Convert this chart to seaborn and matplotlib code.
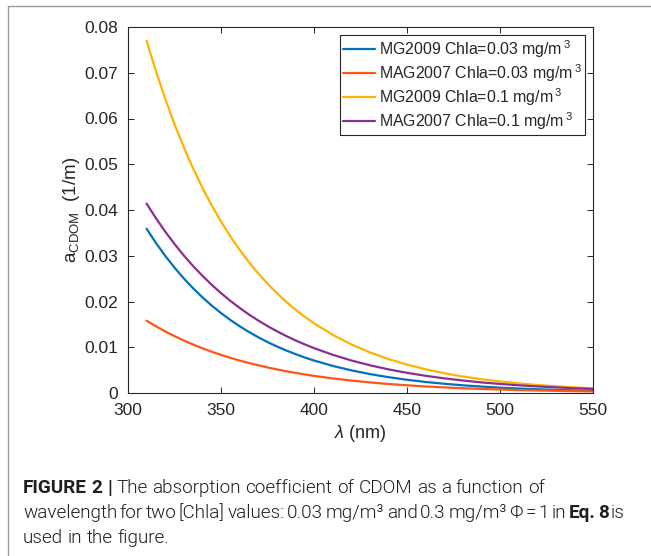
import matplotlib
matplotlib.use("Agg")
import matplotlib.pyplot as plt
import seaborn as sns
import pandas as pd
from matplotlib.lines import Line2D

# Wavelength grid (nm)
wavelength = [310, 315, 320, 325, 330, 335, 340, 345, 350, 355, 360, 365, 370,
              375, 380, 385, 390, 395, 400, 410, 420, 430, 440, 450, 460, 470,
              480, 490, 500, 510, 520, 530, 540, 550]

# CDOM absorption coefficient (1/m)
mg2009_chl003 = [0.0359, 0.03281, 0.02999, 0.02741, 0.02505, 0.02289, 0.02092,
                 0.01912, 0.01747, 0.01597, 0.01460, 0.01334, 0.01219, 0.01114,
                 0.01018, 0.00931, 0.00851, 0.00777, 0.00710, 0.00593, 0.00496,
                 0.00414, 0.00346, 0.00289, 0.00241, 0.00202, 0.00168, 0.00141,
                 0.00117, 0.00098, 0.00082, 0.00068, 0.00057, 0.00048]
mag2007_chl003 = [0.0158, 0.01459, 0.01346, 0.01243, 0.01147, 0.01059, 0.00978,
                  0.00903, 0.00833, 0.00769, 0.00710, 0.00656, 0.00606, 0.00559,
                  0.00516, 0.00476, 0.00440, 0.00406, 0.00374, 0.00319, 0.00272,
                  0.00232, 0.00197, 0.00168, 0.00143, 0.00122, 0.00104, 0.00089,
                  0.00076, 0.00064, 0.00055, 0.00047, 0.00040, 0.00034]
mg2009_chl01 = [0.0770, 0.07037, 0.06432, 0.05878, 0.05372, 0.04910, 0.04487,
                0.04101, 0.03748, 0.03425, 0.03131, 0.02861, 0.02615, 0.02390,
                0.02184, 0.01996, 0.01824, 0.01667, 0.01524, 0.01273, 0.01063,
                0.00888, 0.00742, 0.00620, 0.00518, 0.00432, 0.00361, 0.00302,
                0.00252, 0.00210, 0.00176, 0.00147, 0.00123, 0.00102]
mag2007_chl01 = [0.0414, 0.03822, 0.03528, 0.03257, 0.03006, 0.02775, 0.02562,
                 0.02365, 0.02183, 0.02015, 0.01860, 0.01717, 0.01585, 0.01463,
                 0.01351, 0.01247, 0.01151, 0.01063, 0.00981, 0.00836, 0.00712,
                 0.00607, 0.00517, 0.00441, 0.00376, 0.00320, 0.00273, 0.00232,
                 0.00198, 0.00169, 0.00144, 0.00123, 0.00104, 0.00089]

series_labels = [
    r"MG2009 Chla=0.03 mg/m$\,^{3}$",
    r"MAG2007 Chla=0.03 mg/m$\,^{3}$",
    r"MG2009 Chla=0.1 mg/m$\,^{3}$",
    r"MAG2007 Chla=0.1 mg/m$\,^{3}$",
]
series_values = [mg2009_chl003, mag2007_chl003, mg2009_chl01, mag2007_chl01]
series_colors = ["#0072BD", "#FF5516", "#FFB300", "#8A2E94"]

x_ticks = [300, 350, 400, 450, 500, 550]
y_ticks = [0, 0.01, 0.02, 0.03, 0.04, 0.05, 0.06, 0.07, 0.08]
y_tick_labels = ["0", "0.01", "0.02", "0.03", "0.04", "0.05", "0.06", "0.07", "0.08"]

df = pd.concat(
    [pd.DataFrame({"wavelength": wavelength, "a": vals, "series": lab})
     for lab, vals in zip(series_labels, series_values)],
    ignore_index=True,
)

sns.set_theme(style="ticks")
plt.rcParams.update({
    "font.family": ["Liberation Sans", "DejaVu Sans"],
    "mathtext.fontset": "custom",
    "mathtext.rm": "Liberation Sans",
    "mathtext.it": "Liberation Sans:italic",
    "mathtext.bf": "Liberation Sans:bold",
    "xtick.direction": "in",
    "ytick.direction": "in",
    "xtick.top": True,
    "ytick.right": True,
    "xtick.major.size": 4,
    "ytick.major.size": 4,
    "xtick.major.width": 0.7,
    "ytick.major.width": 0.7,
    "xtick.color": "#262626",
    "ytick.color": "#262626",
    "axes.edgecolor": "#262626",
    "axes.linewidth": 0.8,
})

W, H = 651, 556
fig = plt.figure(figsize=(W / 100, H / 100), dpi=100)
fig.patch.set_facecolor("white")

ax_l, ax_r, ax_t, ax_b = 128, 593, 27, 393
ax = fig.add_axes([ax_l / W, 1 - ax_b / H, (ax_r - ax_l) / W, (ax_b - ax_t) / H])

sns.lineplot(data=df, x="wavelength", y="a", hue="series",
             hue_order=series_labels, palette=series_colors,
             estimator=None, linewidth=1.6, legend=False, ax=ax)

ax.set_xlim(300, 550)
ax.set_ylim(0, 0.08)
ax.set_xticks(x_ticks)
ax.set_xticklabels([str(t) for t in x_ticks])
ax.set_yticks(y_ticks)
ax.set_yticklabels(y_tick_labels)
ax.tick_params(labelsize=12.5, labelcolor="#262626", pad=7)
for s in ax.spines.values():
    s.set_visible(True)
    s.set_color("#262626")

ax.set_xlabel(r"$\lambda$ (nm)", fontsize=13, color="#262626", va="center")
ax.xaxis.set_label_coords(0.5, (ax_b - 433) / (ax_b - ax_t))
ax.set_ylabel(r"a$_{\mathrm{CDOM}}$  (1/m)", fontsize=13.5, color="#262626", va="center")
ax.yaxis.set_label_coords((72 - ax_l) / (ax_r - ax_l), 0.5)

handles = [Line2D([], [], color=c, lw=1.6) for c in series_colors]
leg = ax.legend(handles, series_labels, loc="upper right", fontsize=11.4,
                frameon=True, fancybox=False, framealpha=1, edgecolor="#262626",
                borderpad=0.2, labelspacing=0.15, handlelength=2.0,
                handletextpad=0.25, borderaxespad=0.5)
leg.get_frame().set_linewidth(0.8)

# Caption frame lines
frame_col = "#9a9a9a"
fig.add_artist(Line2D([8 / W, 8 / W], [0, 1 - 6 / H], transform=fig.transFigure,
                      color=frame_col, lw=1.0))
fig.add_artist(Line2D([8 / W, 1], [1 - 6 / H, 1 - 6 / H], transform=fig.transFigure,
                      color=frame_col, lw=1.0))

# Caption, word by word (bold words flagged), second line justified
cap_font = ["Roboto", "DejaVu Sans"]
cap_color = "#1e1e1e"
light = 300
cap_lines = [
    [("FIGURE", "bold"), ("2", "bold"), ("|", "bold"), ("The", light),
     ("absorption", light), ("coefficient", light), ("of", light),
     ("CDOM", light), ("as", light), ("a", light), ("function", light),
     ("of", light)],
    [("wavelength", light), ("for", light), ("two", light),
     ("[Chla]", light), ("values:", light), ("0.03", light),
     ("mg/m\u00b3", light), ("and", light), ("0.3", light),
     ("mg/m\u00b3", light), ("\u03a6", light), ("=", light), ("1", light),
     ("in", light), ("Eq.", "bold"), ("8", "bold"), ("is", light)],
    [("used", light), ("in", light), ("the", light), ("figure.", light)],
]
cap_baselines = [493, 518, 543]
cap_justify = [None, 602, None]
cap_x0 = 23
cap_line1_width = 520
renderer = fig.canvas.get_renderer()


def word_widths(words, size):
    ws = []
    for txt, weight in words:
        t = fig.text(0, 0, txt, fontsize=size, fontweight=weight, family=cap_font)
        ws.append(t.get_window_extent(renderer).width)
        t.remove()
    return ws


def space_width(size):
    a = fig.text(0, 0, "a a", fontsize=size, fontweight=light, family=cap_font)
    b = fig.text(0, 0, "aa", fontsize=size, fontweight=light, family=cap_font)
    w = a.get_window_extent(renderer).width - b.get_window_extent(renderer).width
    a.remove()
    b.remove()
    return w


fig.canvas.draw()
ref_size = 12
w_line1 = sum(word_widths(cap_lines[0], ref_size)) + space_width(ref_size) * (len(cap_lines[0]) - 1)
cap_size = ref_size * cap_line1_width / w_line1
gap_nat = space_width(cap_size)

for words, yb, just in zip(cap_lines, cap_baselines, cap_justify):
    ws = word_widths(words, cap_size)
    gap = gap_nat
    if just is not None:
        gap = max(1.5, (just - sum(ws)) / (len(words) - 1))
    x = cap_x0
    for (txt, weight), w in zip(words, ws):
        fig.text(x / W, 1 - yb / H, txt, fontsize=cap_size, fontweight=weight,
                 family=cap_font, color=cap_color, va="baseline", ha="left")
        x += w + gap

fig.savefig("out.png", dpi=100)
